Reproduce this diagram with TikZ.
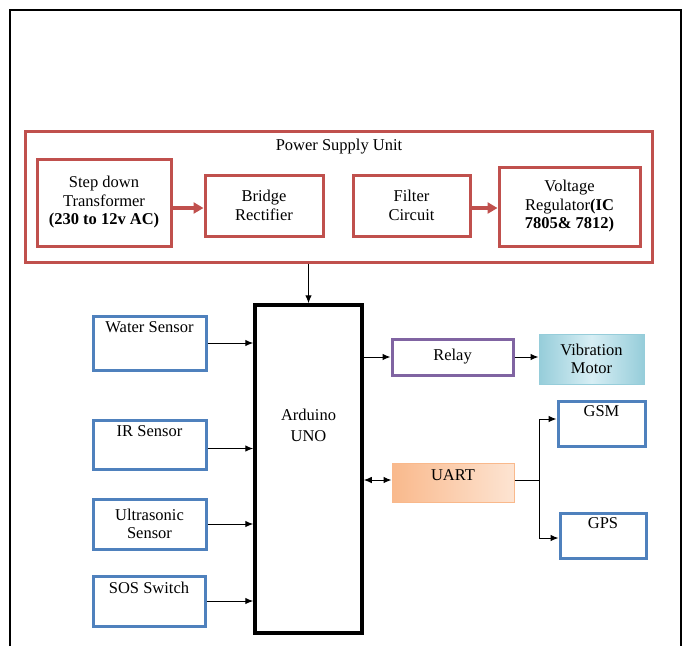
\documentclass[tikz,border=0pt]{standalone}
\usepackage{fontspec}
\setmainfont{Liberation Serif}
\usetikzlibrary{arrows.meta}

\definecolor{psured}{RGB}{192,80,77}
\definecolor{sensblue}{RGB}{79,129,189}
\definecolor{relaypurple}{RGB}{128,100,162}
\definecolor{vibdark}{RGB}{150,205,218}
\definecolor{viblight}{RGB}{215,238,244}
\definecolor{uartdark}{RGB}{249,185,140}
\definecolor{uartlight}{RGB}{253,228,210}

\begin{document}
\begin{tikzpicture}[
  x=1pt, y=-1pt,
  every node/.style={font=\fontsize{16.5}{18.5}\selectfont, align=center, inner sep=2pt},
  psubox/.style={draw=psured, line width=3pt, rectangle},
  sensbox/.style={draw=sensblue, line width=3pt, rectangle},
  conn/.style={line width=1pt, -{Latex[length=8pt,width=6.5pt]}},
  redconn/.style={draw=psured, line width=3.5pt, -{Triangle[length=10pt,width=11pt]}}
]

  \useasboundingbox (0,0) rectangle (684,646);

  % outer frame
  \draw[line width=1.5pt] (10,646) -- (10,10) -- (681,10) -- (681,646);

  % ==========================================
  % power supply unit
  % ==========================================
  \node[psubox, minimum width=627pt, minimum height=131pt] (psu) at (338.5,196.5) {};
  \node (psutitle) at (339,147) {Power Supply Unit};

  \node[psubox, minimum width=134pt, minimum height=87pt] (trans) at (104,202.5)
    {Step down\\Transformer\\\textbf{(230 to 12v AC)}};
  \node[psubox, minimum width=118pt, minimum height=61pt] (bridge) at (264,205.5)
    {Bridge\\Rectifier};
  \node[psubox, minimum width=117pt, minimum height=61pt] (filter) at (411.5,205.5)
    {Filter\\Circuit};
  \node[psubox, minimum width=141pt, minimum height=79pt] (vreg) at (569.5,206.5)
    {Voltage\\Regulator\textbf{(IC}\\\textbf{7805\& 7812)}};

  \draw[redconn] ([yshift=-2.5pt]trans.east |- bridge.west) -- ([yshift=-2.5pt]bridge.west);
  \draw[redconn] ([yshift=-2.5pt]filter.east) -- ([yshift=-2.5pt]filter.east -| vreg.west);

  % ==========================================
  % controller
  % ==========================================
  \node[draw, line width=3.5pt, minimum width=107pt, minimum height=328pt,
    label={[anchor=north, yshift=-104pt, font=\fontsize{16.5}{21}\selectfont]north:Arduino\\UNO}]
    (uno) at (308.5,469) {};

  \draw[conn] (uno.north |- psu.south) -- (uno.north);

  % sensors (inputs)
  \node[sensbox, minimum width=113pt, minimum height=54pt,
    label={[anchor=north, yshift=-5pt]north:Water Sensor}] (water) at (149.5,343) {};
  \node[sensbox, minimum width=113pt, minimum height=49pt,
    label={[anchor=north, yshift=-5pt]north:IR Sensor}] (ir) at (149.5,444.5) {};
  \node[sensbox, minimum width=113pt, minimum height=50pt] (ultra) at (149.5,524)
    {Ultrasonic\\Sensor};
  \node[sensbox, minimum width=112pt, minimum height=50pt,
    label={[anchor=north, yshift=-5pt]north:SOS Switch}] (sos) at (149,601) {};

  \draw[conn] (water.east) -- (water.east -| uno.west);
  \draw[conn] ([yshift=-4pt]ir.east) -- ([yshift=-4pt]ir.east -| uno.west);
  \draw[conn] (ultra.east) -- (ultra.east -| uno.west);
  \draw[conn] (sos.east) -- (sos.east -| uno.west);

  % outputs
  \node[draw=relaypurple, line width=3pt, minimum width=121pt, minimum height=36pt] (relay)
    at (452.5,357) {Relay};
  \node[draw=vibdark, line width=1pt, minimum width=105pt, minimum height=50pt,
    left color=vibdark, right color=vibdark, middle color=viblight] (vib)
    at (591.5,359) {Vibration\\Motor};

  \draw[conn] (uno.east |- relay.west) -- (relay.west);
  \draw[conn] (relay.east) -- (relay.east -| vib.west);

  % serial link
  \node[draw=uartdark, line width=1pt, minimum width=122pt, minimum height=39pt,
    left color=uartdark, right color=uartlight, inner sep=0pt,
    label={[anchor=north, yshift=-5pt]north:UART}] (uart) at (453,482.5) {};
  \node[sensbox, minimum width=87pt, minimum height=45pt,
    label={[anchor=north, yshift=-4pt]north:GSM}] (gsm) at (601.5,423.5) {};
  \node[sensbox, minimum width=86pt, minimum height=45pt,
    label={[anchor=north, yshift=-4pt]north:GPS}] (gps) at (603,535.5) {};

  \draw[line width=1pt, {Latex[length=8pt,width=6.5pt]}-{Latex[length=8pt,width=6.5pt]}]
    ([yshift=2.5pt]uno.east |- uart.west) -- ([yshift=2.5pt]uart.west);
  \draw[line width=1pt] ([yshift=2.5pt]uart.east) -- ++(25,0) coordinate (split);
  \draw[conn] (split) |- ([yshift=4.5pt]gsm.west);
  \draw[conn] (split) |- ([yshift=-2.5pt]gps.west);

\end{tikzpicture}
\end{document}
